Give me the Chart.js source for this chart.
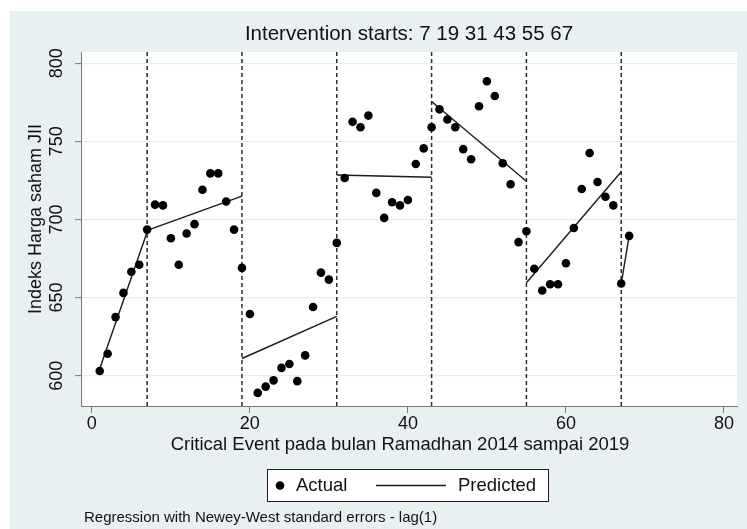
<!DOCTYPE html>
<html>
<head>
<meta charset="utf-8">
<script src="https://cdn.jsdelivr.net/npm/chart.js@4/dist/chart.umd.min.js"></script>
<style>
  html, body { margin: 0; padding: 0; background: #fff; }
</style>
</head>
<body>
<canvas id="chart" width="747" height="529"></canvas>
<script>
// periods (months) and the observed index
const periods = [1, 2, 3, 4, 5, 6, 7, 8, 9, 10, 11, 12, 13, 14, 15, 16, 17, 18, 19, 20,
  21, 22, 23, 24, 25, 26, 27, 28, 29, 30, 31, 32, 33, 34, 35, 36, 37, 38, 39, 40,
  41, 42, 43, 44, 45, 46, 47, 48, 49, 50, 51, 52, 53, 54, 55, 56, 57, 58, 59, 60,
  61, 62, 63, 64, 65, 66, 67, 68];
const actual = [603, 614, 637.5, 653, 666.5, 671, 693.5, 709.5, 709, 688,
  671, 691, 697, 719, 729.5, 729.5, 711.5, 693.5, 669, 639.5,
  589, 593, 597, 605, 607.5, 596.5, 613, 644, 666, 661.5,
  685, 726.5, 762.5, 759, 766.5, 717, 701, 711, 709, 712.5,
  735.5, 745.5, 759, 770.5, 764, 759, 745, 738.5, 772.5, 788.5,
  779, 736, 722.5, 685.5, 692.5, 668.5, 654.5, 658.5, 658.5, 672,
  694.5, 719.5, 742.5, 724, 714.5, 709, 659, 689.5];

// intervention points and predicted segments
const interventions = [7, 19, 31, 43, 55, 67];
const predStart = [1, 7, 19, 31, 43, 55, 67];
const predEnd = [7, 19, 31, 43, 55, 67, 68];
const predFrom = [604.5, 693, 611, 728.5, 775.5, 659.5, 659];
const predTo = [692, 715, 638, 727, 724.5, 730.5, 689.5];

const xTicks = [0, 20, 40, 60, 80];
const yTicks = [600, 650, 700, 750, 800];
const xRange = [-1.37, 81.65];
const yRange = [580.6, 807.2];

const titleText = 'Intervention starts: ' + interventions.join(' ');
const xTitle = 'Critical Event pada bulan Ramadhan 2014 sampai 2019';
const yTitle = 'Indeks Harga saham JII';
const footnote = 'Regression with Newey-West standard errors - lag(1)';

const FONT = '"Liberation Sans", Arial, sans-serif';
const textColor = '#111';
const axisColor = '#7a7a7a';
const gridColor = '#e6eef0';
const bgColor = '#e9f0f2';

let datasets = [];
datasets.push({
  type: 'scatter',
  label: 'Actual',
  data: periods.map((p, i) => ({ x: p, y: actual[i] })),
  backgroundColor: '#000',
  borderWidth: 0,
  pointRadius: 4.3
});
for (let i = 0; i < predStart.length; i++) {
  datasets.push({
    type: 'line',
    label: 'Predicted',
    data: [{ x: predStart[i], y: predFrom[i] }, { x: predEnd[i], y: predTo[i] }],
    borderColor: '#1a1a1a',
    borderWidth: 1.4,
    pointRadius: 0,
    fill: false
  });
}
for (let i = 0; i < interventions.length; i++) {
  datasets.push({
    type: 'line',
    label: 'start ' + interventions[i],
    data: [{ x: interventions[i], y: yRange[0] }, { x: interventions[i], y: yRange[1] }],
    borderColor: '#2a2a2a',
    borderWidth: 1.5,
    borderDash: [4, 3],
    pointRadius: 0,
    fill: false
  });
}

const backdrop = {
  id: 'backdrop',
  beforeDraw(chart) {
    const ctx = chart.ctx;
    const a = chart.chartArea;
    ctx.save();
    ctx.fillStyle = '#fff';
    ctx.fillRect(0, 0, chart.width, chart.height);
    ctx.fillStyle = bgColor;
    ctx.fillRect(10, 11, chart.width - 10, chart.height - 11);
    ctx.fillStyle = '#fff';
    ctx.fillRect(a.left, a.top, a.right - a.left, a.bottom - a.top);
    ctx.restore();
  }
};

// axis titles, legend box and the note under it
const extras = {
  id: 'extras',
  afterDraw(chart) {
    const ctx = chart.ctx;
    ctx.save();
    ctx.fillStyle = textColor;
    ctx.textBaseline = 'middle';

    ctx.font = '18.5px ' + FONT;
    ctx.textAlign = 'center';
    ctx.fillText(xTitle, 400, 444.5);

    ctx.save();
    ctx.translate(36, 219);
    ctx.rotate(-Math.PI / 2);
    ctx.font = '18px ' + FONT;
    ctx.fillText(yTitle, 0, 0);
    ctx.restore();

    // legend
    ctx.fillStyle = '#fff';
    ctx.fillRect(267.5, 469.5, 281, 32);
    ctx.strokeStyle = '#222';
    ctx.lineWidth = 1;
    ctx.strokeRect(267.5, 469.5, 281, 32);
    ctx.fillStyle = '#000';
    ctx.beginPath();
    ctx.arc(280, 485.5, 4.3, 0, Math.PI * 2);
    ctx.fill();
    ctx.strokeStyle = '#1a1a1a';
    ctx.lineWidth = 1.4;
    ctx.beginPath();
    ctx.moveTo(376, 485.5);
    ctx.lineTo(446, 485.5);
    ctx.stroke();
    ctx.fillStyle = textColor;
    ctx.textAlign = 'left';
    ctx.font = '18.5px ' + FONT;
    ctx.fillText(chart.data.datasets[0].label, 296, 486);
    ctx.fillText(chart.data.datasets[1].label, 458, 486);

    ctx.font = '15px ' + FONT;
    ctx.fillText(footnote, 84, 518);
    ctx.restore();
  }
};

const chart = new Chart(document.getElementById('chart'), {
  type: 'scatter',
  data: { datasets: datasets },
  options: {
    responsive: false,
    animation: false,
    devicePixelRatio: 1,
    layout: { padding: { left: 0, right: 10, top: 0, bottom: 93 } },
    plugins: {
      legend: { display: false },
      tooltip: { enabled: false },
      title: {
        display: true,
        text: titleText,
        fullSize: false,
        color: textColor,
        font: { family: FONT, size: 20.5, weight: 'normal', lineHeight: 1.2 },
        padding: { top: 22.1, bottom: 5.3 }
      }
    },
    scales: {
      x: {
        type: 'linear',
        min: xRange[0],
        max: xRange[1],
        afterBuildTicks: s => { s.ticks = xTicks.map(v => ({ value: v })); },
        afterFit: s => { s.height = 30; },
        grid: { drawOnChartArea: false, tickLength: 7, tickColor: axisColor, tickWidth: 1 },
        border: { color: axisColor, width: 1 },
        ticks: {
          font: { family: FONT, size: 18, lineHeight: 1 },
          color: textColor, padding: 2, autoSkip: false, maxRotation: 0
        }
      },
      y: {
        type: 'linear',
        min: yRange[0],
        max: yRange[1],
        afterBuildTicks: s => { s.ticks = yTicks.map(v => ({ value: v })); },
        afterFit: s => { s.width = 81; },
        grid: { color: gridColor, lineWidth: 1.2, tickLength: 6, tickColor: axisColor, tickWidth: 1 },
        border: { color: axisColor, width: 1 },
        ticks: {
          font: { family: FONT, size: 18, lineHeight: 1 },
          color: textColor, padding: 3, minRotation: 90, maxRotation: 90,
          crossAlign: 'center', autoSkip: false
        }
      }
    }
  },
  plugins: [backdrop, extras]
});
</script>
</body>
</html>
